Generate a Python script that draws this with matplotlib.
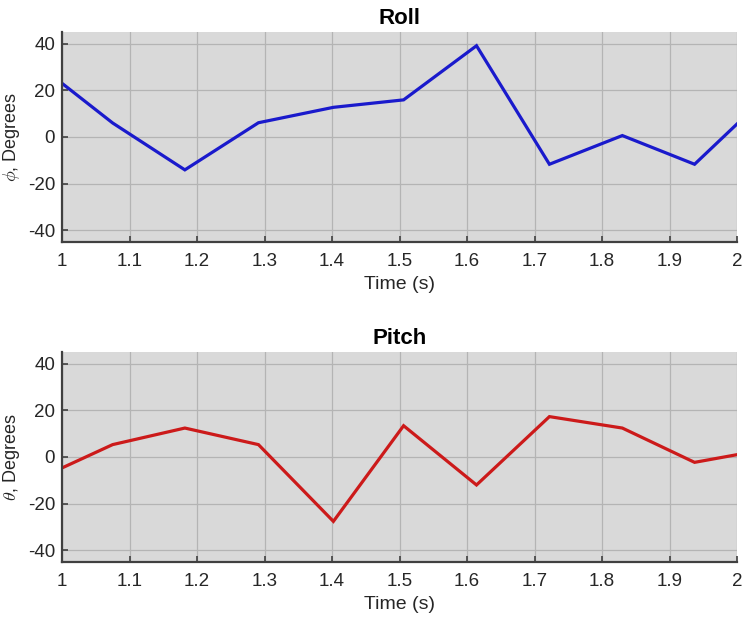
import matplotlib
matplotlib.use('Agg')
import matplotlib.pyplot as plt

plt.rcParams['font.family'] = ['Liberation Sans', 'DejaVu Sans']
plt.rcParams['mathtext.fontset'] = 'cm'
plt.rcParams['axes.unicode_minus'] = False

# Time samples (s) and angles (degrees)
time = [1.0, 1.075, 1.182, 1.291, 1.402, 1.506, 1.614, 1.722, 1.830, 1.937, 2.0]
roll = [23.0, 6.0, -14.1, 6.1, 12.7, 15.9, 39.1, -11.7, 0.6, -11.7, 5.6]
pitch = [-4.7, 5.3, 12.4, 5.3, -27.6, 13.4, -12.0, 17.3, 12.4, -2.3, 1.0]

xticks = [1, 1.1, 1.2, 1.3, 1.4, 1.5, 1.6, 1.7, 1.8, 1.9, 2]
xticklabels = ['1', '1.1', '1.2', '1.3', '1.4', '1.5', '1.6', '1.7', '1.8', '1.9', '2']
yticks = [-40, -20, 0, 20, 40]

fig = plt.figure(figsize=(7.56, 6.22), dpi=100)
ax1 = fig.add_axes([0.082, 0.611, 0.893, 0.3376])
ax2 = fig.add_axes([0.082, 0.0965, 0.893, 0.3376])

panels = [
    (ax1, roll, '#1a1acc', 'Roll', r'$\phi$, Degrees'),
    (ax2, pitch, '#cc1a1a', 'Pitch', r'$\theta$, Degrees'),
]

for ax, vals, col, title, ylab in panels:
    ax.set_facecolor('#d9d9d9')
    ax.plot(time, vals, color=col, linewidth=2.3, solid_joinstyle='miter')
    ax.set_xlim(1, 2)
    ax.set_ylim(-45, 45)
    ax.set_xticks(xticks)
    ax.set_xticklabels(xticklabels)
    ax.set_yticks(yticks)
    ax.grid(True, color='#b4b4b4', linewidth=0.9)
    ax.set_axisbelow(True)
    for side in ['top', 'right']:
        ax.spines[side].set_visible(False)
    for side in ['left', 'bottom']:
        ax.spines[side].set_color('#404040')
        ax.spines[side].set_linewidth(1.6)
    ax.tick_params(direction='in', length=4, width=1.2, colors='#404040',
                   labelsize=13.5, labelcolor='#262626')
    ax.tick_params(axis='x', pad=8)
    ax.tick_params(axis='y', pad=5)
    ax.set_title(title, fontsize=16, fontweight='bold', pad=6)
    ax.set_xlabel('Time (s)', fontsize=14, color='#262626', labelpad=4)
    ax.set_ylabel(ylab, fontsize=13, color='#262626', labelpad=4)

fig.savefig('out.png', dpi=100, facecolor='white')
